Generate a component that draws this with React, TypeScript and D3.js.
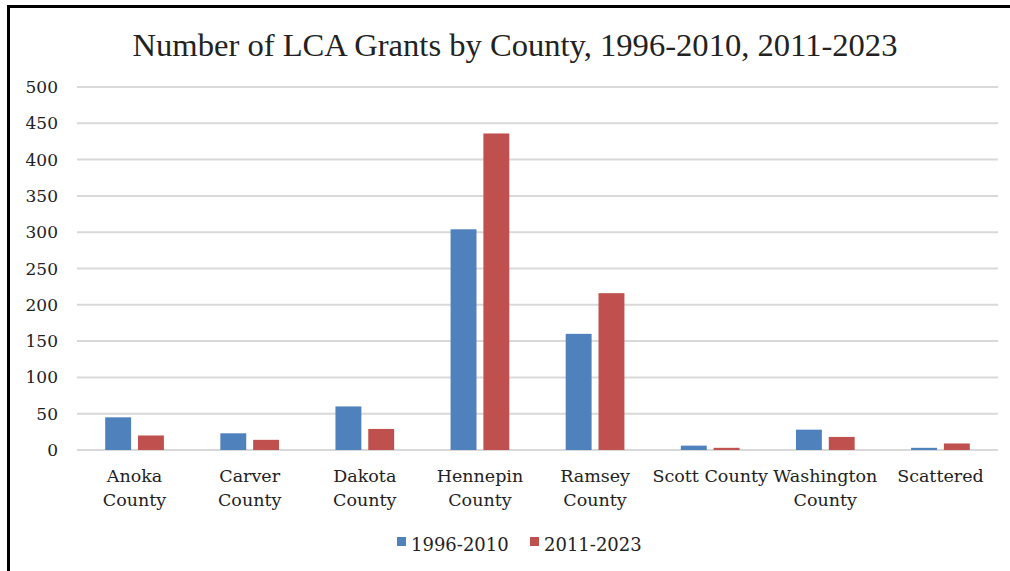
import React from "react";
import * as d3 from "d3";

const categories: string[][] = [
  ["Anoka", "County"],
  ["Carver", "County"],
  ["Dakota", "County"],
  ["Hennepin", "County"],
  ["Ramsey", "County"],
  ["Scott County"],
  ["Washington", "County"],
  ["Scattered"],
];
const series1Name = "1996-2010";
const series2Name = "2011-2023";
const series1: number[] = [45, 23, 60, 304, 160, 6, 28, 3];
const series2: number[] = [20, 14, 29, 436, 216, 3, 18, 9];
const yTicks: number[] = [0, 50, 100, 150, 200, 250, 300, 350, 400, 450, 500];
const title = "Number of LCA Grants by County, 1996-2010, 2011-2023";

const W = 1010;
const H = 571;
const left = 77;
const right = 998;
const top = 87;
const bottom = 450;
const blue = "#4f81bd";
const red = "#c0504d";
const font = "'DejaVu Serif', serif";

export default function App() {
  const keys = categories.map((c) => c.join(" "));
  const x = d3.scaleBand<string>().domain(keys).range([left, right]).padding(0);
  const y = d3.scaleLinear().domain([0, 500]).range([bottom, top]);
  const bw = x.bandwidth();
  const barW = bw * 0.225;
  const gap = bw * 0.06;

  return (
    <svg
      width={W}
      height={H}
      style={{ position: "absolute", left: 0, top: 0, background: "#fff" }}
    >
      <rect x={0} y={0} width={W} height={H} fill="#fff" />
      {/* frame */}
      <line x1={8.5} x2={8.5} y1={5} y2={H} stroke="#000" strokeWidth={3} />
      <line x1={7} x2={W} y1={6.5} y2={6.5} stroke="#000" strokeWidth={3} />

      <text
        x={515}
        y={56}
        textAnchor="middle"
        fontFamily="'Liberation Serif', serif"
        fontSize={32.6}
        fill="#222"
      >
        {title}
      </text>

      {yTicks.map((t) => (
        <g key={t}>
          <line x1={left} x2={right} y1={y(t)} y2={y(t)} stroke="#d9d9d9" strokeWidth={2} />
          <text
            x={58}
            y={y(t) + 6}
            textAnchor="end"
            fontFamily={font}
            fontSize={17}
            fill="#222"
          >
            {t}
          </text>
        </g>
      ))}

      {keys.map((k, i) => {
        const cx = (x(k) as number) + bw / 2;
        return (
          <g key={k}>
            <rect
              x={cx - gap / 2 - barW}
              y={y(series1[i])}
              width={barW}
              height={bottom - y(series1[i])}
              fill={blue}
            />
            <rect
              x={cx + gap / 2}
              y={y(series2[i])}
              width={barW}
              height={bottom - y(series2[i])}
              fill={red}
            />
            {categories[i].map((line, j) => (
              <text
                key={j}
                x={cx}
                y={482 + j * 24}
                textAnchor="middle"
                fontFamily={font}
                fontSize={17.5}
                fill="#222"
              >
                {line}
              </text>
            ))}
          </g>
        );
      })}

      {/* legend */}
      <rect x={397} y={537} width={9} height={9} fill={blue} />
      <text x={411} y={551} fontFamily={font} fontSize={18} fill="#222">
        {series1Name}
      </text>
      <rect x={530} y={537} width={9} height={9} fill={red} />
      <text x={544} y={551} fontFamily={font} fontSize={18} fill="#222">
        {series2Name}
      </text>
    </svg>
  );
}
